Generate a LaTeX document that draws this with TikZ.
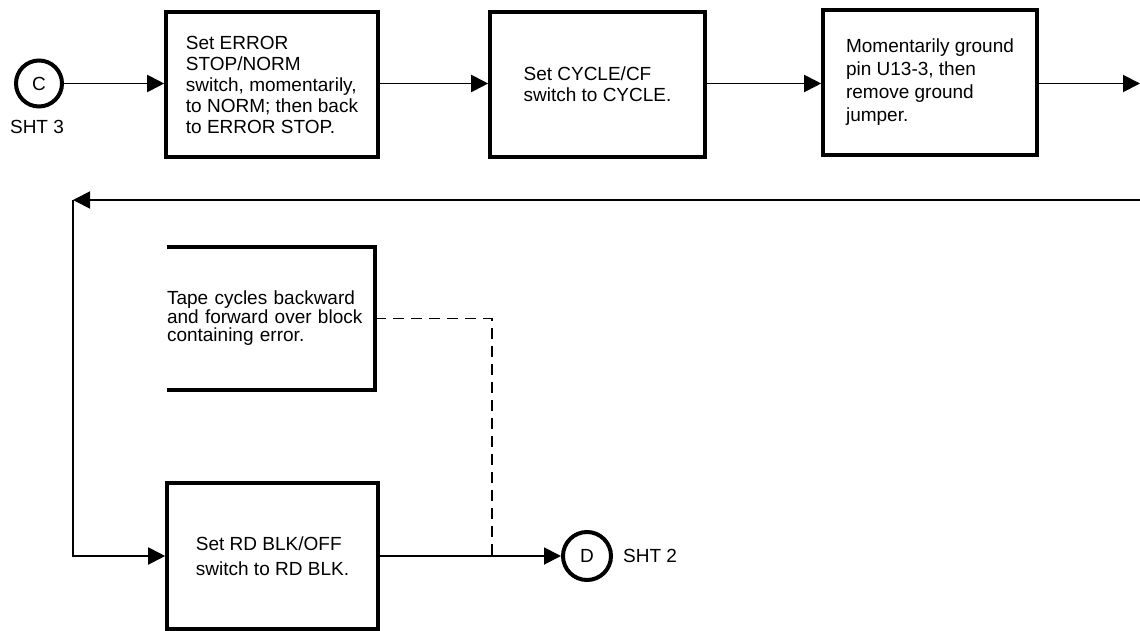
\documentclass[tikz,border=0pt]{standalone}
\usepackage{fontspec}
\setmainfont{Liberation Sans}
\usetikzlibrary{arrows.meta}
\begin{document}
\begin{tikzpicture}[x=1pt,y=-1pt,
  every node/.style={font=\fontsize{19}{21}\selectfont},
  box/.style={draw, line width=3.6pt, align=left, inner sep=0pt},
  conn/.style={line width=1.9pt, -{Triangle[length=17pt,width=17pt]}},
  dashline/.style={line width=1.7pt, dash pattern=on 11pt off 7pt},
  term/.style={draw, circle, line width=4pt, minimum size=46pt, inner sep=0pt},
  lbl/.style={inner sep=0pt}]
\useasboundingbox (0,0) rectangle (1140,631);
% terminals
\node[term] (C) at (39,83.5) {C};
\node[lbl] (sht3) at (37,127) {SHT 3};
\node[term, minimum size=48pt] (D) at (587,556) {D};
\node[lbl, anchor=west] (sht2) at (623,556) {SHT 2};
% boxes
\node[box, minimum width=212pt, minimum height=145pt] (b1) at (272,84.5)
  {Set ERROR\\STOP/NORM\\switch, momentarily,\\to NORM; then back\\to ERROR STOP.};
\node[box, minimum width=215pt, minimum height=145pt] (b2) at (597.5,84.5)
  {Set CYCLE/CF\\switch to CYCLE.};
\node[box, minimum width=214pt, minimum height=145pt, font=\fontsize{19}{23}\selectfont] (b3) at (930,82.5)
  {Momentarily ground\\pin U13-3, then\\remove ground\\jumper.};
\node[inner sep=0pt, minimum width=208pt, minimum height=143pt, text width=208pt, align=left,
  font=\fontsize{19}{18.5}\selectfont] (b4) at (271,318.5)
  {Tape cycles backward\\and forward over block\\containing error.};
\draw[line width=3.6pt] (b4.north west) -- (b4.north east) -- (b4.south east) -- (b4.south west);
\node[box, minimum width=211pt, minimum height=146pt, font=\fontsize{19}{25}\selectfont] (b5) at (272.5,556)
  {Set RD BLK/OFF\\switch to RD BLK.};
% coordinates
\coordinate (e) at (1140,83.5);
\coordinate (r) at (1140,200);
\coordinate (l) at (73,200);
\coordinate (j) at (492,556);
% connectors
\draw[conn] (C) -- (C -| b1.west);
\draw[conn] (b1.east |- C) -- (b2.west |- C);
\draw[conn] (b2.east |- C) -- (b3.west |- C);
\draw[conn] (b3.east |- e) -- (e);
\draw[conn] (r) -- (l);
\draw[conn] (l) |- (b5.west);
\draw[conn] (b5.east) -- (D);
\draw[dashline] (b4.east) -| (j);
\end{tikzpicture}
\end{document}
